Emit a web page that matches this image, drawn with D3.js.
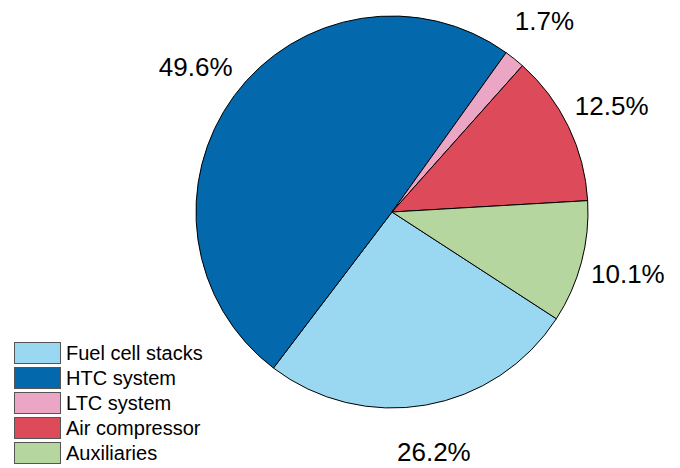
<!DOCTYPE html>
<html>
<head>
<meta charset="utf-8">
<script src="https://cdn.jsdelivr.net/npm/d3@7"></script>
<style>
  body { margin: 0; background: #fff; }
  text { font-family: Arial, "Liberation Sans", Helvetica, sans-serif; fill: #000; }
</style>
</head>
<body>
<div id="chart"></div>
<script>
  const categories = ["Fuel cell stacks", "HTC system", "LTC system", "Air compressor", "Auxiliaries"];
  const values = [26.2, 49.6, 1.7, 12.5, 10.1];
  const labels = ["26.2%", "49.6%", "1.7%", "12.5%", "10.1%"];
  const colors = ["#9ad7f1", "#0369ac", "#eba6c5", "#dd4a5a", "#b5d69f"];

  const width = 680;
  const height = 468;
  const cx = 392, cy = 212, radius = 196;
  const labelRadius = 244;

  const svg = d3.select("#chart")
    .append("svg")
    .attr("width", width)
    .attr("height", height);

  const startDeg = 123;
  const pie = d3.pie()
    .sort(null)
    .value(d => d)
    .startAngle(startDeg * Math.PI / 180)
    .endAngle((startDeg + 360) * Math.PI / 180);

  const arcs = pie(values);
  const arc = d3.arc().innerRadius(0).outerRadius(radius);
  const labelArc = d3.arc().innerRadius(labelRadius).outerRadius(labelRadius);

  const g = svg.append("g").attr("transform", "translate(" + cx + "," + cy + ")");

  g.selectAll("path")
    .data(arcs)
    .enter()
    .append("path")
    .attr("d", arc)
    .attr("fill", (d, i) => colors[i])
    .attr("stroke", "#000")
    .attr("stroke-width", 1)
    .attr("stroke-linejoin", "round");

  g.selectAll("text.pct")
    .data(arcs)
    .enter()
    .append("text")
    .attr("class", "pct")
    .attr("x", d => labelArc.centroid(d)[0])
    .attr("y", d => labelArc.centroid(d)[1])
    .attr("text-anchor", "middle")
    .attr("dominant-baseline", "central")
    .attr("font-size", "26px")
    .text((d, i) => labels[i]);

  // legend, no box around it
  const legend = svg.append("g").attr("transform", "translate(14,342)");
  const row = legend.selectAll("g")
    .data(categories)
    .enter()
    .append("g")
    .attr("transform", (d, i) => "translate(0," + (i * 25) + ")");

  row.append("rect")
    .attr("x", 0.5)
    .attr("y", 0.5)
    .attr("width", 46)
    .attr("height", 21)
    .attr("fill", (d, i) => colors[i])
    .attr("stroke", "#555")
    .attr("stroke-width", 1);

  row.append("text")
    .attr("x", 52)
    .attr("y", 11)
    .attr("dominant-baseline", "central")
    .attr("font-size", "20px")
    .text(d => d);
</script>
</body>
</html>
